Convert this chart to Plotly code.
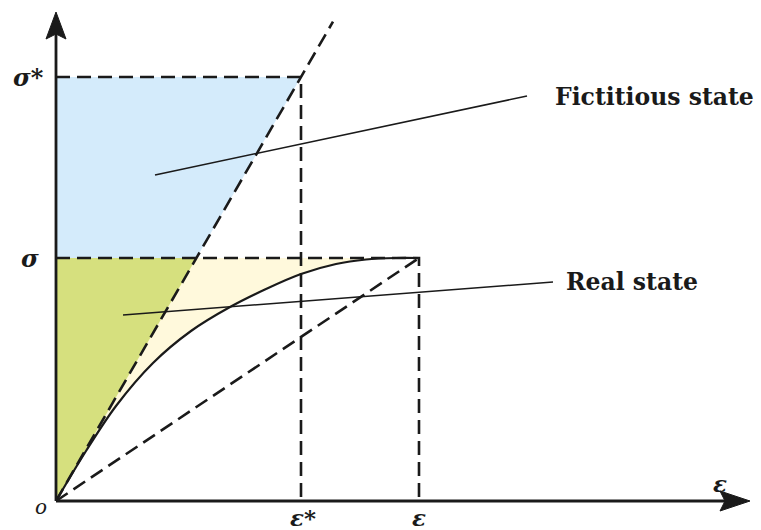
import plotly.graph_objects as go

# ---- data (units relative to origin) ----
eps_star = 245          # fictitious strain
eps_real = 363          # real strain
sig_star = 424          # fictitious stress
sig_real = 243          # real stress
elastic_end_x = 277     # extent of elastic dashed line

curve_x = [0, 30, 60, 97, 135, 174, 210, 245, 280, 310, 340, 363]
curve_y = [0, 50, 95, 138, 170, 194, 212, 227, 237, 241.5, 243, 243]

axis_x_end = 694
axis_y_end = 489

tick_labels_y = ["<b><i>σ*</i></b>", "<b><i>σ</i></b>"]
tick_labels_x = ["<b><i>ε*</i></b>", "<b><i>ε</i></b>"]

leader_fict = dict(x=[99, 471], y=[326, 405])
leader_real = dict(x=[67, 497], y=[186, 219])
label_fict = "Fictitious state"
label_real = "Real state"

E = sig_star / eps_star
x_at_sig = sig_real / E

BLUE = "#d4ebfb"
GREEN = "#d6e07e"
PALE = "#fff9dc"
BLK = "#1a1a1a"

fig = go.Figure()

# pale yellow region: left of curve, below sigma
fig.add_trace(go.Scatter(x=curve_x, y=curve_y, mode="lines", fill="tozerox",
                         fillcolor=PALE, line=dict(color="rgba(0,0,0,0)", width=0, shape="spline"),
                         hoverinfo="skip"))
# green triangle
fig.add_trace(go.Scatter(x=[0, 0, x_at_sig, 0], y=[0, sig_real, sig_real, 0], mode="lines",
                         fill="toself", fillcolor=GREEN, line=dict(width=0, color="rgba(0,0,0,0)"),
                         hoverinfo="skip"))
# blue region
fig.add_trace(go.Scatter(x=[0, 0, eps_star, x_at_sig, 0], y=[sig_real, sig_star, sig_star, sig_real, sig_real],
                         mode="lines", fill="toself", fillcolor=BLUE,
                         line=dict(width=0, color="rgba(0,0,0,0)"), hoverinfo="skip"))

dash = dict(color=BLK, width=2.6, dash="14px,7px")
# elastic line
fig.add_trace(go.Scatter(x=[0, elastic_end_x], y=[0, E * elastic_end_x], mode="lines", line=dash))
# secant line
fig.add_trace(go.Scatter(x=[0, eps_real], y=[0, sig_real], mode="lines", line=dash))
# horizontal / vertical dashed
fig.add_trace(go.Scatter(x=[0, eps_star, eps_star], y=[sig_star, sig_star, 0], mode="lines", line=dash))
fig.add_trace(go.Scatter(x=[0, eps_real, eps_real], y=[sig_real, sig_real, 0], mode="lines", line=dash))

# real curve
fig.add_trace(go.Scatter(x=curve_x, y=curve_y, mode="lines",
                         line=dict(color=BLK, width=2.2, shape="spline")))

# leader lines
for ld in (leader_fict, leader_real):
    fig.add_trace(go.Scatter(x=ld["x"], y=ld["y"], mode="lines", line=dict(color=BLK, width=1.6)))

# axes lines
fig.add_trace(go.Scatter(x=[0, axis_x_end - 20], y=[0, 0], mode="lines", line=dict(color=BLK, width=2.8)))
fig.add_trace(go.Scatter(x=[0, 0], y=[0, axis_y_end - 20], mode="lines", line=dict(color=BLK, width=2.8)))
# arrowheads
fig.add_trace(go.Scatter(x=[axis_x_end, axis_x_end - 30, axis_x_end - 25, axis_x_end - 30, axis_x_end],
                         y=[0, 10, 0, -10, 0], mode="lines", fill="toself", fillcolor=BLK,
                         line=dict(color=BLK, width=1)))
fig.add_trace(go.Scatter(x=[0, -10, 0, 10, 0],
                         y=[axis_y_end, axis_y_end - 27, axis_y_end - 22, axis_y_end - 27, axis_y_end],
                         mode="lines", fill="toself", fillcolor=BLK,
                         line=dict(color=BLK, width=1)))

serif = "DejaVu Serif"
ann = []
# y tick labels
ann.append(dict(x=-28, y=sig_star, text=tick_labels_y[0], showarrow=False, xanchor="center", yanchor="middle",
                font=dict(family=serif, size=24, color=BLK)))
ann.append(dict(x=-26, y=sig_real, text=tick_labels_y[1], showarrow=False, xanchor="center", yanchor="middle",
                font=dict(family=serif, size=24, color=BLK)))
# x tick labels
ann.append(dict(x=eps_star + 2, y=-16, text=tick_labels_x[0], showarrow=False, xanchor="center", yanchor="middle",
                font=dict(family=serif, size=23, color=BLK)))
ann.append(dict(x=eps_real, y=-16, text=tick_labels_x[1], showarrow=False, xanchor="center", yanchor="middle",
                font=dict(family=serif, size=23, color=BLK)))
# axis name
ann.append(dict(x=664, y=18, text="<b><i>ε</i></b>", showarrow=False, xanchor="center", yanchor="middle",
                font=dict(family=serif, size=23, color=BLK)))
# origin
ann.append(dict(x=-15, y=-6, text="<i>o</i>", showarrow=False, xanchor="center", yanchor="middle",
                font=dict(family=serif, size=20, color=BLK)))
# state labels
ann.append(dict(x=497, y=404, text="<b>" + label_fict + "</b>", showarrow=False, xanchor="left",
                yanchor="middle", font=dict(family=serif, size=23.5, color=BLK)))
ann.append(dict(x=508, y=219, text="<b>" + label_real + "</b>", showarrow=False, xanchor="left",
                yanchor="middle", font=dict(family=serif, size=23.5, color=BLK)))

fig.update_layout(
    width=761, height=530,
    margin=dict(l=0, r=0, t=0, b=0),
    paper_bgcolor="white", plot_bgcolor="white",
    showlegend=False,
    xaxis=dict(range=[-56, 705], visible=False, fixedrange=True),
    yaxis=dict(range=[-29, 501], visible=False, fixedrange=True),
    annotations=ann,
)

fig.write_html("out.html")
